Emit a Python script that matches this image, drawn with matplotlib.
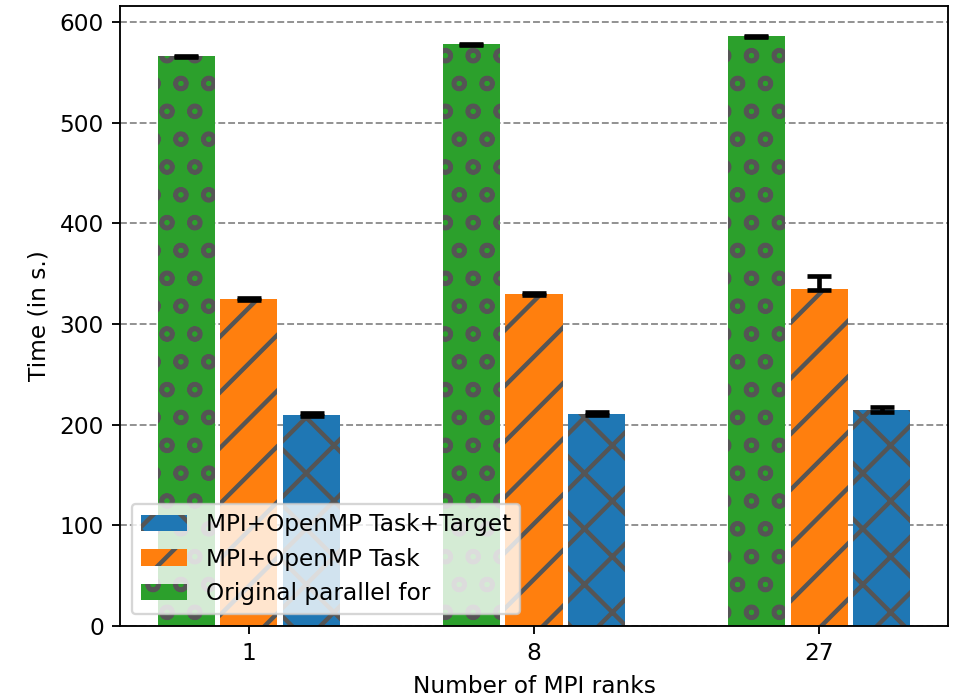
# -*- coding: utf-8 -*-
"""
Tiempo de ejecución por número de rangos MPI para las tres variantes.
"""

import matplotlib
matplotlib.use("Agg")
import matplotlib.pyplot as plt
import numpy as np

# Datos
ranks = ["1", "8", "27"]

original_for = [566, 578, 586]
original_err = [0.6, 0.6, 0.6]

task = [325, 330, 335]
task_err_low = [0.8, 0.8, 1.5]
task_err_high = [0.8, 0.8, 13.0]

task_target = [210, 211, 215]
task_target_err = [1.2, 1.5, 2.5]

labels = ["MPI+OpenMP Task+Target", "MPI+OpenMP Task", "Original parallel for"]

plt.rcParams["hatch.color"] = "#555555"
plt.rcParams["hatch.linewidth"] = 1.9

dpi = 167
fig = plt.figure(figsize=(954 / dpi, 696 / dpi), dpi=dpi)
ax = fig.add_axes([120 / 954, 70 / 696, 828 / 954, 620 / 696])

x = np.arange(len(ranks))
width = 0.2
offset = 0.22
err_kw = dict(ecolor="black", capsize=5, elinewidth=2, capthick=2)

b_green = ax.bar(x - offset, original_for, width, yerr=original_err,
                 color="tab:green", hatch="o", error_kw=err_kw)
b_orange = ax.bar(x, task, width, yerr=[task_err_low, task_err_high],
                  color="tab:orange", hatch="/", error_kw=err_kw)
b_blue = ax.bar(x + offset, task_target, width, yerr=task_target_err,
                color="tab:blue", hatch="x", error_kw=err_kw)

ax.set_xticks(x)
ax.set_xticklabels(ranks)
ax.set_xlabel("Number of MPI ranks")
ax.set_ylabel("Time (in s.)")
ax.set_axisbelow(True)
ax.grid(True, axis="y", linestyle="--", color="gray", alpha=0.9)
ax.legend([b_blue, b_orange, b_green], labels, loc="lower left")

fig.savefig("out.png", dpi=dpi)
plt.close()
